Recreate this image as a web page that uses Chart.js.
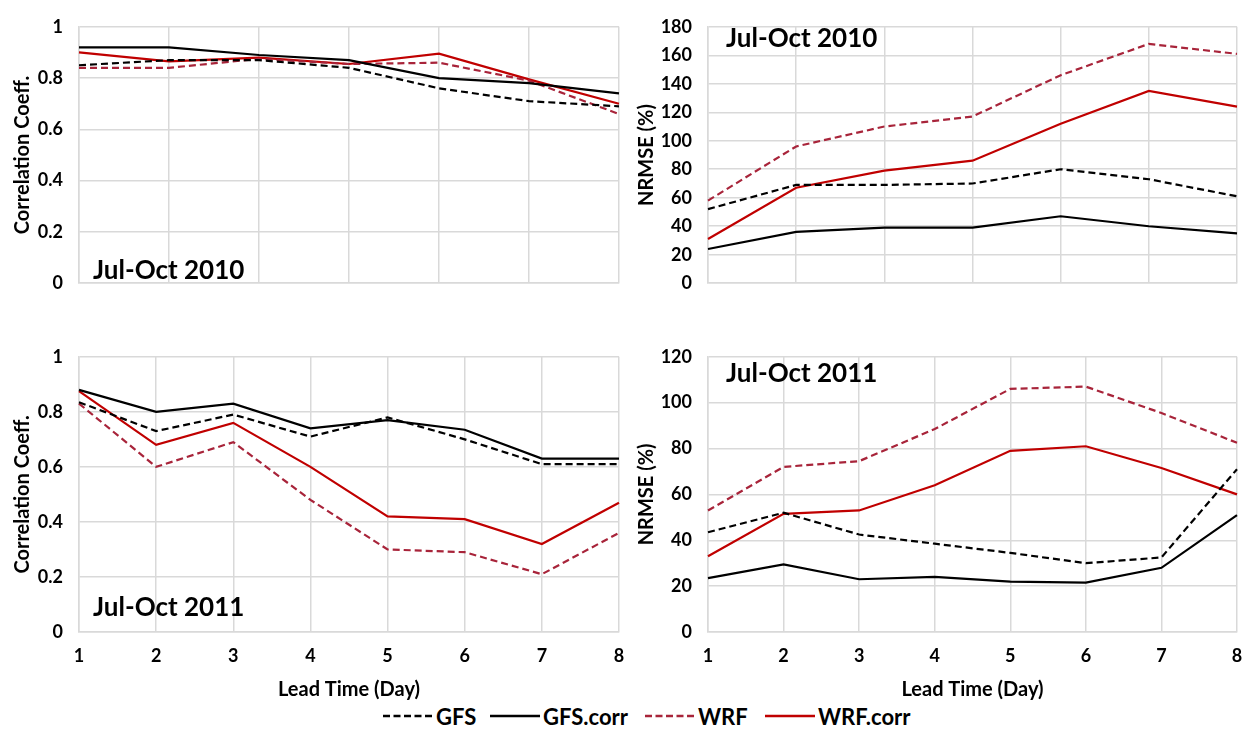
<!DOCTYPE html>
<html>
<head>
<meta charset="utf-8">
<script src="https://cdn.jsdelivr.net/npm/chart.js@4/dist/chart.umd.min.js"></script>
<style>
  html, body { margin:0; padding:0; background:#fff; }
  body { width:1243px; height:730px; position:relative; overflow:hidden; font-family: Lato, "Open Sans", sans-serif; }
  .box { position:absolute; }
  .ann { position:absolute; font-family: Lato, sans-serif; font-weight:700; font-size:26px; color:#000; white-space:nowrap; line-height:1; }
  #legend { position:absolute; top:703px; left:0; width:1243px; height:26px; font-family: Lato, sans-serif; font-weight:700; font-size:22px; }
  .li { position:absolute; top:0; height:26px; display:flex; align-items:center; }
  .li svg { margin-right:3px; }
</style>
</head>
<body>
<div class="box" style="left:0;top:0;width:625px;height:310px;"><canvas id="c1"></canvas></div>
<div class="box" style="left:625px;top:0;width:618px;height:310px;"><canvas id="c2"></canvas></div>
<div class="box" style="left:0;top:330px;width:625px;height:372px;"><canvas id="c3"></canvas></div>
<div class="box" style="left:625px;top:330px;width:618px;height:372px;"><canvas id="c4"></canvas></div>

<div class="ann" style="left:93px;top:256px;">Jul-Oct 2010</div>
<div class="ann" style="left:726px;top:24px;">Jul-Oct 2010</div>
<div class="ann" style="left:93px;top:593px;">Jul-Oct 2011</div>
<div class="ann" style="left:726px;top:359px;">Jul-Oct 2011</div>

<div id="legend"></div>

<script>
// ---- Data ----
const seriesNames = ["GFS", "GFS.corr", "WRF", "WRF.corr"];
const leadDays2010 = ["1", "2", "3", "4", "5", "6", "7"];
const leadDays2011 = ["1", "2", "3", "4", "5", "6", "7", "8"];

// Correlation, Jul-Oct 2010
const corr2010_GFS     = [0.85, 0.87, 0.87, 0.84, 0.76, 0.71, 0.69];
const corr2010_GFScorr = [0.92, 0.92, 0.89, 0.87, 0.80, 0.78, 0.74];
const corr2010_WRF     = [0.84, 0.84, 0.875, 0.855, 0.86, 0.79, 0.66];
const corr2010_WRFcorr = [0.90, 0.865, 0.88, 0.855, 0.895, 0.795, 0.70];

// NRMSE (%), Jul-Oct 2010
const nrmse2010_GFS     = [52, 69, 69, 70, 80, 73, 61];
const nrmse2010_GFScorr = [24, 36, 39, 39, 47, 40, 35];
const nrmse2010_WRF     = [58, 96, 110, 117, 146, 168, 161];
const nrmse2010_WRFcorr = [31, 67, 79, 86, 112, 135, 124];

// Correlation, Jul-Oct 2011
const corr2011_GFS     = [0.835, 0.73, 0.79, 0.71, 0.78, 0.70, 0.61, 0.61];
const corr2011_GFScorr = [0.88, 0.80, 0.83, 0.74, 0.77, 0.735, 0.63, 0.63];
const corr2011_WRF     = [0.83, 0.60, 0.69, 0.48, 0.30, 0.29, 0.21, 0.36];
const corr2011_WRFcorr = [0.875, 0.68, 0.76, 0.60, 0.42, 0.41, 0.32, 0.47];

// NRMSE (%), Jul-Oct 2011
const nrmse2011_GFS     = [43.5, 52, 42.5, 38.5, 34.5, 30, 32.5, 71];
const nrmse2011_GFScorr = [23.5, 29.5, 23, 24, 22, 21.5, 28, 51];
const nrmse2011_WRF     = [53, 72, 74.5, 88.5, 106, 107, 95.5, 82.5];
const nrmse2011_WRFcorr = [33, 51.5, 53, 64, 79, 81, 71.5, 60];

// ---- Styles ----
const BLACK = "#000000";
const RED = "#C00000";
const RED_DASH = "#A8243A";
const GRID = "#D9D9D9";
const FONT = "Lato, sans-serif";
Chart.defaults.font.family = FONT;
Chart.defaults.font.weight = "bold";
Chart.defaults.color = "#000";

const styles = {
  "GFS":      { color: BLACK, dash: [7, 4] },
  "GFS.corr": { color: BLACK, dash: [] },
  "WRF":      { color: RED_DASH, dash: [7, 4] },
  "WRF.corr": { color: RED, dash: [] }
};

function ds(name, data) {
  const s = styles[name];
  return {
    label: name, data: data, borderColor: s.color, backgroundColor: s.color,
    borderDash: s.dash, borderWidth: 2.2, pointRadius: 0, tension: 0, fill: false
  };
}

function makeChart(id, labels, sets, yMax, yStep, yTitle, showX, yWidth, titlePad) {
  const ctx = document.getElementById(id);
  return new Chart(ctx, {
    type: "line",
    data: {
      labels: labels,
      datasets: [
        ds("GFS", sets[0]), ds("GFS.corr", sets[1]), ds("WRF", sets[2]), ds("WRF.corr", sets[3])
      ]
    },
    options: {
      responsive: true, maintainAspectRatio: false, animation: false,
      layout: { padding: { top: showX ? 19 : 20, right: 6, bottom: showX ? 0 : 8, left: 0 } },
      plugins: { legend: { display: false }, tooltip: { enabled: false } },
      scales: {
        x: {
          offset: false,
          grid: { color: GRID, lineWidth: 1.5, drawTicks: false },
          border: { color: GRID, width: 1.5 },
          ticks: { display: showX, color: "#000", font: { family: FONT, size: 18, weight: "bold" }, padding: 13, maxRotation: 0, autoSkip: false },
          title: { display: showX, text: "Lead Time (Day)", color: "#000", font: { family: FONT, size: 20, weight: "bold" }, padding: { top: 0, bottom: 0 } },
          afterFit: (sc) => { sc.height = showX ? 70 : 0; sc.paddingRight = 0; sc.paddingLeft = 0; }
        },
        y: {
          min: 0, max: yMax,
          grid: { color: GRID, lineWidth: 1.5, drawTicks: false },
          border: { color: GRID, width: 1.5 },
          ticks: {
            stepSize: yStep, color: "#000", font: { family: FONT, size: 18, weight: "bold" }, padding: 16,
            callback: (v) => String(Math.round(v * 100) / 100)
          },
          title: { display: true, text: yTitle, color: "#000", font: { family: FONT, size: 20, weight: "bold" }, padding: { top: titlePad, bottom: 0 } },
          afterFit: (sc) => { sc.width = yWidth; }
        }
      }
    }
  });
}

makeChart("c1", leadDays2010, [corr2010_GFS, corr2010_GFScorr, corr2010_WRF, corr2010_WRFcorr], 1, 0.2, "Correlation Coeff.", false, 79, 11);
makeChart("c2", leadDays2010, [nrmse2010_GFS, nrmse2010_GFScorr, nrmse2010_WRF, nrmse2010_WRFcorr], 180, 20, "NRMSE (%)", false, 83, 10);
makeChart("c3", leadDays2011, [corr2011_GFS, corr2011_GFScorr, corr2011_WRF, corr2011_WRFcorr], 1, 0.2, "Correlation Coeff.", true, 79, 11);
makeChart("c4", leadDays2011, [nrmse2011_GFS, nrmse2011_GFScorr, nrmse2011_WRF, nrmse2011_WRFcorr], 120, 20, "NRMSE (%)", true, 83, 10);

// ---- Legend ----
const legendX = [383, 490, 645, 765];
const legend = document.getElementById("legend");
seriesNames.forEach((name, i) => {
  const s = styles[name];
  const item = document.createElement("div");
  item.className = "li";
  item.style.left = legendX[i] + "px";
  item.innerHTML = '<svg width="50" height="10"><line x1="0" y1="5" x2="50" y2="5" stroke="' + s.color +
    '" stroke-width="2.4"' + (s.dash.length ? ' stroke-dasharray="7,3.5"' : '') + '/></svg><span>' + name + '</span>';
  legend.appendChild(item);
});
</script>
</body>
</html>
